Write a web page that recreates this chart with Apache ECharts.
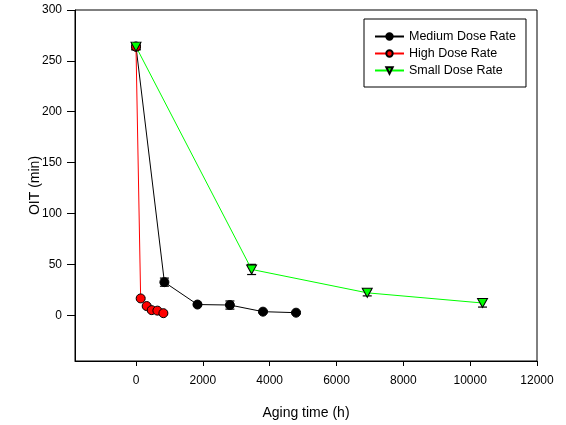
<!DOCTYPE html>
<html>

<head>
	<meta charset="utf-8">
	<title>OIT vs aging time</title>
	<script src="https://cdn.jsdelivr.net/npm/echarts@6/dist/echarts.min.js"></script>
</head>

<body style="margin:0">
	<div id="chart" style="width:566px;height:425px;"></div>
	<script>
		// values
		var agingMedium = [0, 850, 1840, 2810, 3800, 4790];
		var oitMedium = [264, 32.5, 10.5, 10, 3.5, 2.5];
		var errMedium = [3, 4, 1, 4, 1, 1];

		var agingHigh = [0, 140, 320, 470, 640, 820];
		var oitHigh = [264, 16.5, 9, 5, 4.5, 2];
		var errHigh = [3, 1, 1, 1, 1, 1];

		var agingSmall = [0, 3460, 6920, 10370];
		var oitSmall = [264, 45, 22, 12];
		var errSmall = [3, 5, 3, 4];

		var xTicks = [0, 2000, 4000, 6000, 8000, 10000, 12000];
		var yTicks = [0, 50, 100, 150, 200, 250, 300];

		var font = 'Arial, "Liberation Sans", sans-serif';

		function pairs(xs, ys) {
			var out = [];
			for (var i = 0; i < xs.length; i++) out.push([xs[i], ys[i]]);
			return out;
		}

		function bars(xs, ys, es) {
			var out = [];
			for (var i = 0; i < xs.length; i++) out.push([xs[i], ys[i] - es[i], ys[i] + es[i]]);
			return out;
		}

		function renderErr(params, api) {
			var lo = api.coord([api.value(0), api.value(1)]);
			var hi = api.coord([api.value(0), api.value(2)]);
			var w = 4.5;
			var st = { stroke: '#000', lineWidth: 1.2 };
			return {
				type: 'group',
				children: [
					{ type: 'line', shape: { x1: lo[0], y1: lo[1], x2: hi[0], y2: hi[1] }, style: st },
					{ type: 'line', shape: { x1: lo[0] - w, y1: lo[1], x2: lo[0] + w, y2: lo[1] }, style: st },
					{ type: 'line', shape: { x1: hi[0] - w, y1: hi[1], x2: hi[0] + w, y2: hi[1] }, style: st }
				]
			};
		}

		function lineSeries(name, data, color, symbol, rotate) {
			return {
				name: name,
				type: 'line',
				data: data,
				symbol: symbol,
				symbolSize: symbol == 'triangle' ? [10, 9] : 9,
				symbolRotate: rotate,
				showAllSymbol: true,
				lineStyle: { color: color, width: 1 },
				itemStyle: { color: color, borderColor: '#000', borderWidth: 1 },
				z: 3
			};
		}

		function errSeries(data) {
			return {
				type: 'custom',
				data: data,
				renderItem: renderErr,
				encode: { x: 0, y: [1, 2] },
				silent: true,
				z: 2
			};
		}

		function plain(v) {
			return String(v);
		}

		var chart = echarts.init(document.getElementById('chart'));
		var option = {
			animation: false,
			backgroundColor: '#fff',
			textStyle: { fontFamily: font },
			grid: {
				left: 75,
				right: 29,
				top: 10,
				bottom: 64,
				show: true,
				borderColor: '#000',
				borderWidth: 1
			},
			legend: {
				data: ['Medium Dose Rate', 'High Dose Rate', 'Small Dose Rate'],
				orient: 'vertical',
				left: 364,
				top: 19,
				padding: [11, 10, 10, 10],
				itemWidth: 29,
				itemHeight: 8,
				itemGap: 4,
				borderColor: '#000',
				borderWidth: 1,
				textStyle: { fontSize: 12.5, color: '#000', fontFamily: font }
			},
			xAxis: {
				type: 'value',
				min: -1825,
				max: 12000,
				name: 'Aging time (h)',
				nameLocation: 'middle',
				nameGap: 45,
				nameMoveOverlap: false,
				nameTextStyle: { fontSize: 14, color: '#000' },
				splitLine: { show: false },
				axisLine: { onZero: false, lineStyle: { color: '#000' } },
				axisTick: { customValues: xTicks, length: 5, lineStyle: { color: '#000' } },
				axisLabel: { customValues: xTicks, formatter: plain, margin: 14, fontSize: 12, color: '#000' }
			},
			yAxis: {
				type: 'value',
				min: -45,
				max: 300,
				name: 'OIT (min)',
				nameLocation: 'middle',
				nameGap: 33,
				nameMoveOverlap: false,
				nameTextStyle: { fontSize: 14, color: '#000' },
				splitLine: { show: false },
				axisLine: { onZero: false, lineStyle: { color: '#000' } },
				axisTick: { customValues: yTicks, length: 8, lineStyle: { color: '#000' } },
				axisLabel: { customValues: yTicks, formatter: plain, margin: 13, fontSize: 12, color: '#000' }
			},
			series: [
				errSeries(bars(agingMedium, oitMedium, errMedium)),
				errSeries(bars(agingHigh, oitHigh, errHigh)),
				errSeries(bars(agingSmall, oitSmall, errSmall)),
				lineSeries('Medium Dose Rate', pairs(agingMedium, oitMedium), '#000000', 'circle', 0),
				lineSeries('High Dose Rate', pairs(agingHigh, oitHigh), '#ff0000', 'circle', 0),
				lineSeries('Small Dose Rate', pairs(agingSmall, oitSmall), '#00ff00', 'triangle', 180)
			]
		};
		chart.setOption(option);
	</script>
</body>

</html>
